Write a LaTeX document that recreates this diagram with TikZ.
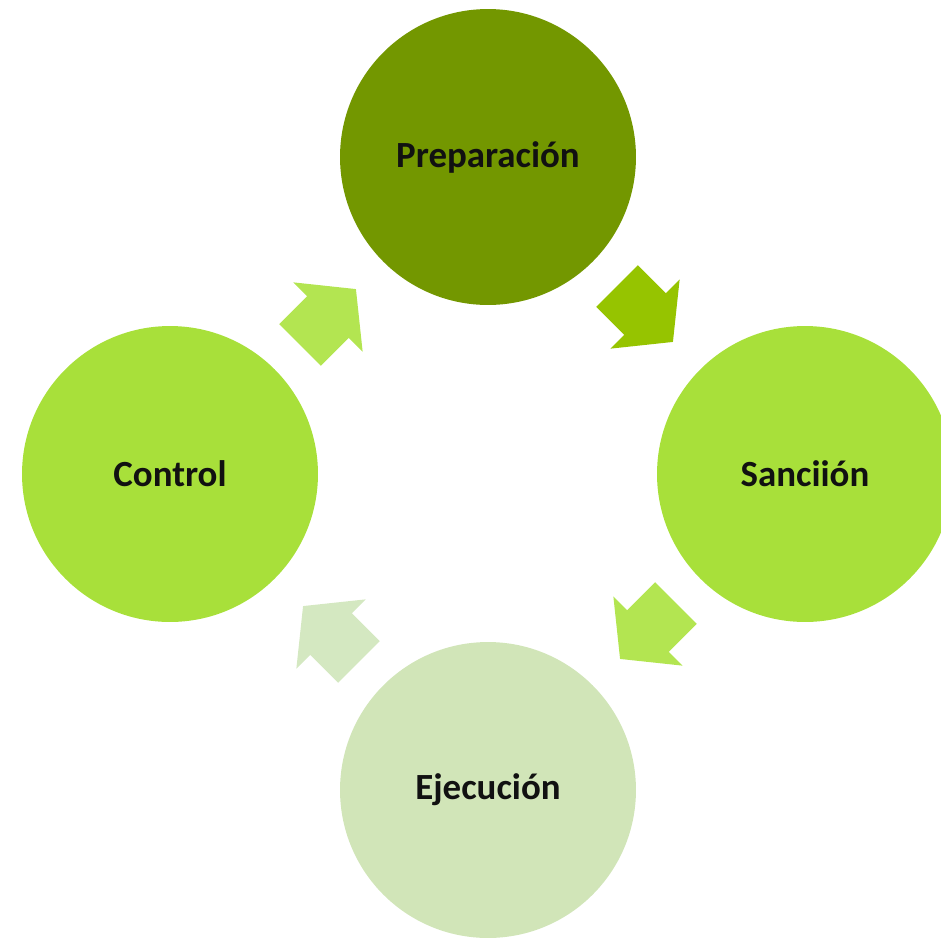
\documentclass[tikz,border=0pt]{standalone}
\usepackage{fontspec}
\setmainfont{Carlito}
\usepackage{xcolor}
\usepackage{tikz}
\definecolor{prep}{HTML}{739700}
\definecolor{bright}{HTML}{A8E03A}
\definecolor{pale}{HTML}{D1E5B8}
\definecolor{arvivid}{HTML}{96C400}
\definecolor{arlight}{HTML}{B3E551}
\definecolor{arpale}{HTML}{D4E8C1}
\definecolor{ink}{HTML}{111111}
\tikzset{
  stage/.style={circle, minimum size=5.92cm, inner sep=0pt, text=ink,
    font=\fontsize{21}{24}\selectfont\bfseries},
  blkarrow/.pic={
    \path[pic actions] (-39.5,-29.5) -- (0,-29.5) -- (0,-49) -- (39.5,0)
      -- (0,49) -- (0,29.5) -- (-39.5,29.5) -- cycle;
  },
}
\begin{document}
\begin{tikzpicture}[x=0.02cm, y=0.02cm]
  \useasboundingbox (0,0) rectangle (941,-938);
  \node[stage, fill=prep]   (prep) at (488,-157) {Preparación};
  \node[stage, fill=bright] (sanc) at (805,-474) {Sanciión};
  \node[stage, fill=pale]   (ejec) at (488,-790) {Ejecución};
  \node[stage, fill=bright] (ctrl) at (170,-474) {Control};
  \foreach \pos/\ang/\col in {{(645,-314)}/-45/arvivid, {(648,-631)}/-135/arlight,
                              {(331,-634)}/135/arpale, {(328,-317)}/45/arlight}
    \pic[fill=\col, rotate=\ang] at \pos {blkarrow};
\end{tikzpicture}
\end{document}
